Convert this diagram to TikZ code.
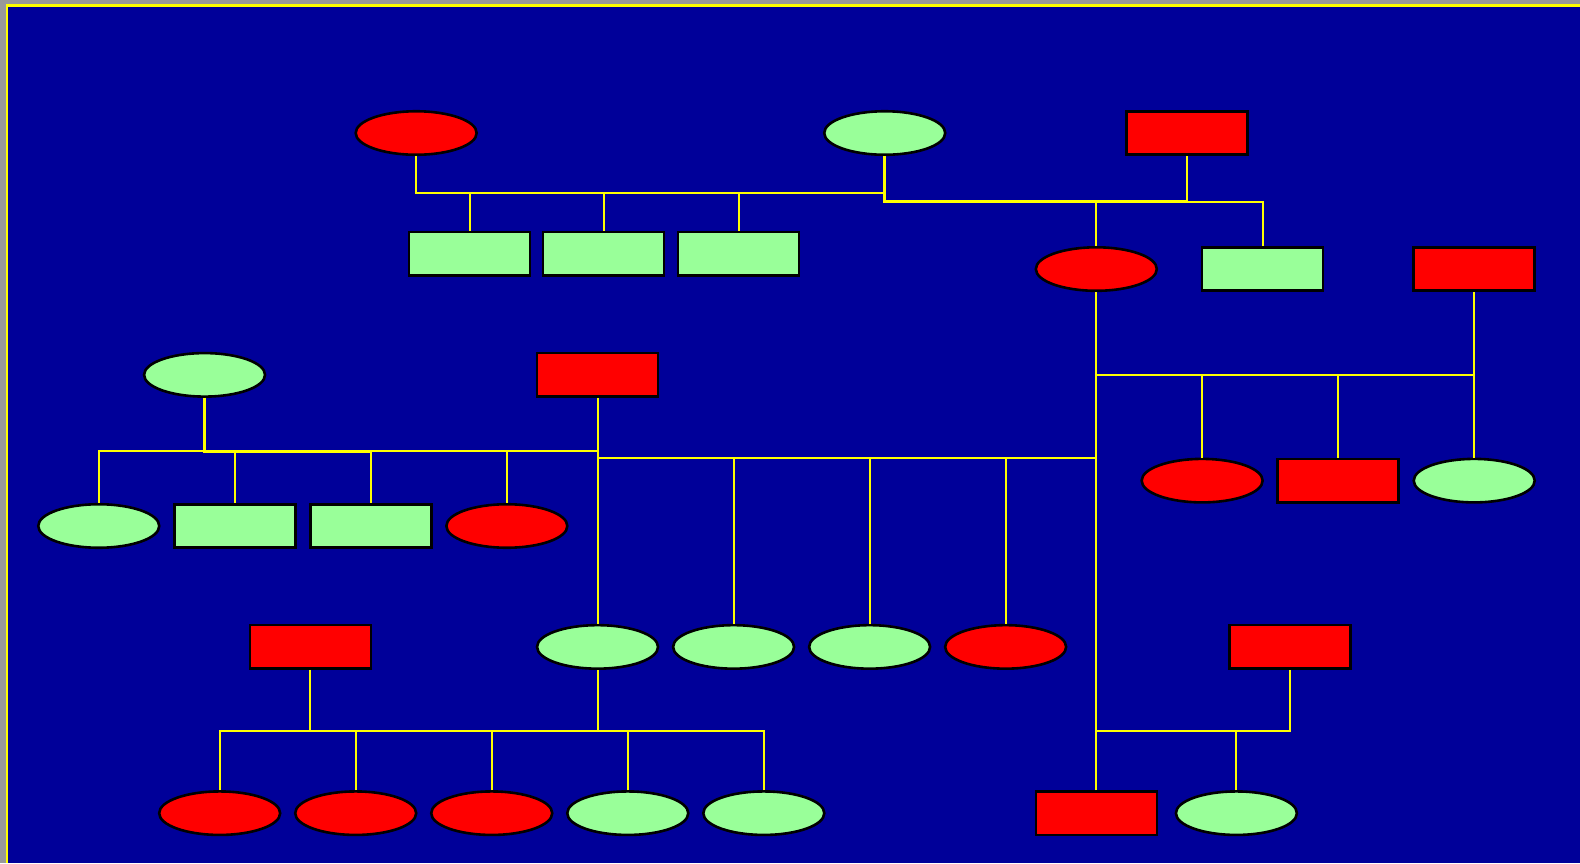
\documentclass[tikz,border=0pt]{standalone}
\usetikzlibrary{shapes.geometric}

\definecolor{slideblue}{HTML}{000099}
\definecolor{femgreen}{HTML}{99FF99}
\definecolor{sickred}{HTML}{FF0000}
\definecolor{frameyellow}{HTML}{FFFF00}

\tikzstyle{line} = [draw=frameyellow, line width=2pt]
\tikzstyle{bond} = [draw=frameyellow, line width=3pt]
\tikzstyle{pers} = [draw=black, line width=2.6pt, inner sep=0pt, minimum width=121pt, minimum height=43.5pt]
\tikzstyle{fem} = [pers, ellipse]
\tikzstyle{male} = [pers, rectangle]

\begin{document}
\begin{tikzpicture}[x=1.00765pt, y=-1.00765pt]

% slide frame
\useasboundingbox (0,0) rectangle (1568,856.45);
\fill [gray!80] (0,0) rectangle (1568,856.45);
\fill [frameyellow] (6,4) rectangle (1568,856.45);
\fill [slideblue] (8,6.5) rectangle (1568,856.45);

% where the couple lines meet
\coordinate (ua) at (645,192);
\coordinate (ub) at (1028,200);
\coordinate (uc) at (1275,372);
\coordinate (ud) at (400,448);
\coordinate (ue) at (840,455);
\coordinate (uf) at (450,725);
\coordinate (ug) at (1184,725);

% first generation
\node [fem, fill=sickred] (e1) at (413,132) {};
\node [fem, fill=femgreen] (e2) at (878,132) {};
\node [male, fill=sickred] (r1) at (1178,132) {};

% second generation
\node [male, fill=femgreen] (ga1) at (466,252) {};
\node [male, fill=femgreen] (ga2) at (599,252) {};
\node [male, fill=femgreen] (ga3) at (733,252) {};
\node [fem, fill=sickred] (e3) at (1088,267) {};
\node [male, fill=femgreen] (gb1) at (1253,267) {};
\node [male, fill=sickred] (r2) at (1463,267) {};

% third generation
\node [fem, fill=femgreen] (e4) at (203,372) {};
\node [male, fill=sickred] (r3) at (593,372) {};
\node [fem, fill=sickred] (rc1) at (1193,477) {};
\node [male, fill=sickred] (rc2) at (1328,477) {};
\node [fem, fill=femgreen] (rc3) at (1463,477) {};
\node [fem, fill=femgreen] (gd1) at (98,522) {};
\node [male, fill=femgreen] (gd2) at (233,522) {};
\node [male, fill=femgreen] (gd3) at (368,522) {};
\node [fem, fill=sickred] (gd4) at (503,522) {};

% fourth generation
\node [male, fill=sickred] (r4) at (308,642) {};
\node [fem, fill=femgreen] (ge1) at (593,642) {};
\node [fem, fill=femgreen] (ge2) at (728,642) {};
\node [fem, fill=femgreen] (ge3) at (863,642) {};
\node [fem, fill=sickred] (ge4) at (998,642) {};
\node [male, fill=sickred] (r5) at (1280,642) {};

% fifth generation
\node [fem, fill=sickred] (rf1) at (218,807) {};
\node [fem, fill=sickred] (rf2) at (353,807) {};
\node [fem, fill=sickred] (rf3) at (488,807) {};
\node [fem, fill=femgreen] (gf4) at (623,807) {};
\node [fem, fill=femgreen] (gf5) at (758,807) {};
\node [male, fill=sickred] (rg1) at (1088,807) {};
\node [fem, fill=femgreen] (gg2) at (1227,807) {};

% couples and their children
\draw [line] (e1.south) |- (ua) -| (e2.south);
\foreach \c in {ga1,ga2,ga3} \draw [line] (\c.north) |- (ua);

\draw [bond] (e2.south) |- (r1.south |- ub);
\draw [line] (r1.south) -- (r1.south |- ub);
\foreach \c in {e3,gb1} \draw [line] (\c.north) |- (ub);

\draw [line] (e3.south) |- (uc) -| (r2.south);
\foreach \c in {rc1,rc2,rc3} \draw [line] (\c.north) |- (uc);

\draw [line] (e4.south) |- (ud) -| (r3.south);
\draw [bond] (e4.south) |- (gd3.north |- ud);
\foreach \c in {gd1,gd2,gd3,gd4} \draw [line] (\c.north) |- (ud);

\draw [line] (r3.south) |- (ue) -| (e3.south);
\foreach \c in {ge1,ge2,ge3,ge4} \draw [line] (\c.north) |- (ue);

\draw [line] (r4.south) |- (uf) -| (ge1.south);
\foreach \c in {rf1,rf2,rf3,gf4,gf5} \draw [line] (\c.north) |- (uf);

\draw [line] (e3.south) |- (ug) -| (r5.south);
\foreach \c in {rg1,gg2} \draw [line] (\c.north) |- (ug);

\end{tikzpicture}
\end{document}
